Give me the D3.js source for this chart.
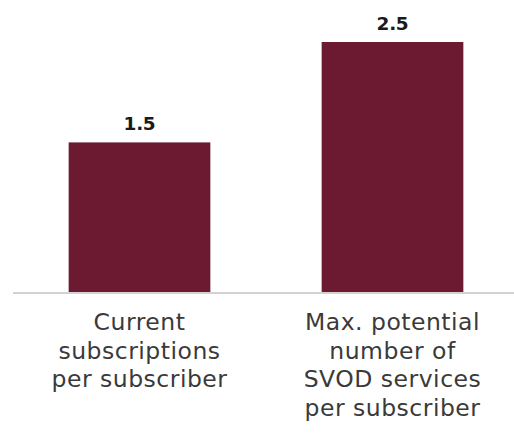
<!DOCTYPE html>
<html>
<head>
<meta charset="utf-8">
<script src="https://cdn.jsdelivr.net/npm/d3@7"></script>
<style>
  html, body { margin: 0; padding: 0; background: #fff; }
  svg { display: block; }
</style>
</head>
<body>
<svg id="chart" width="514" height="433"></svg>
<script>
// Subscriptions per subscriber
const categories = [
  ["Current", "subscriptions", "per subscriber"],
  ["Max. potential", "number of", "SVOD services", "per subscriber"]
];
const values = [1.5, 2.5];
const valueLabels = ["1.5", "2.5"];

const W = 514, H = 433;
const baseY = 293;
const svg = d3.select("#chart");

const x = d3.scaleBand()
  .domain(d3.range(values.length))
  .range([13, 519])
  .paddingInner(0.44)
  .paddingOuter(0.22);

const y = d3.scaleLinear()
  .domain([0, 2.5])
  .range([baseY, 42]);

// bars
svg.selectAll("rect.bar")
  .data(values)
  .join("rect")
  .attr("class", "bar")
  .attr("x", (d, i) => x(i))
  .attr("width", x.bandwidth())
  .attr("y", d => y(d))
  .attr("height", d => baseY - y(d))
  .attr("fill", "#6b1a31");

// baseline
svg.append("line")
  .attr("x1", 13).attr("x2", 514)
  .attr("y1", baseY).attr("y2", baseY)
  .attr("stroke", "#d2d2d2")
  .attr("stroke-width", 2);

// value labels
svg.selectAll("text.val")
  .data(values)
  .join("text")
  .attr("class", "val")
  .attr("x", (d, i) => x(i) + x.bandwidth() / 2)
  .attr("y", d => y(d) - 12)
  .attr("text-anchor", "middle")
  .attr("font-family", "'DejaVu Sans', sans-serif")
  .attr("font-weight", "bold")
  .attr("font-size", 18.5)
  .attr("letter-spacing", -0.3)
  .attr("fill", "#1a1a1a")
  .text((d, i) => valueLabels[i]);

// category labels
const cat = svg.selectAll("text.cat")
  .data(categories)
  .join("text")
  .attr("class", "cat")
  .attr("text-anchor", "middle")
  .attr("font-family", "'DejaVu Sans', sans-serif")
  .attr("font-size", 23.5)
  .attr("letter-spacing", 0.5)
  .attr("fill", "#3a3a3a");

cat.each(function (lines, i) {
  d3.select(this).selectAll("tspan")
    .data(lines)
    .join("tspan")
    .attr("x", x(i) + x.bandwidth() / 2)
    .attr("y", (d, j) => 330 + j * 28.7)
    .text(d => d);
});
</script>
</body>
</html>
